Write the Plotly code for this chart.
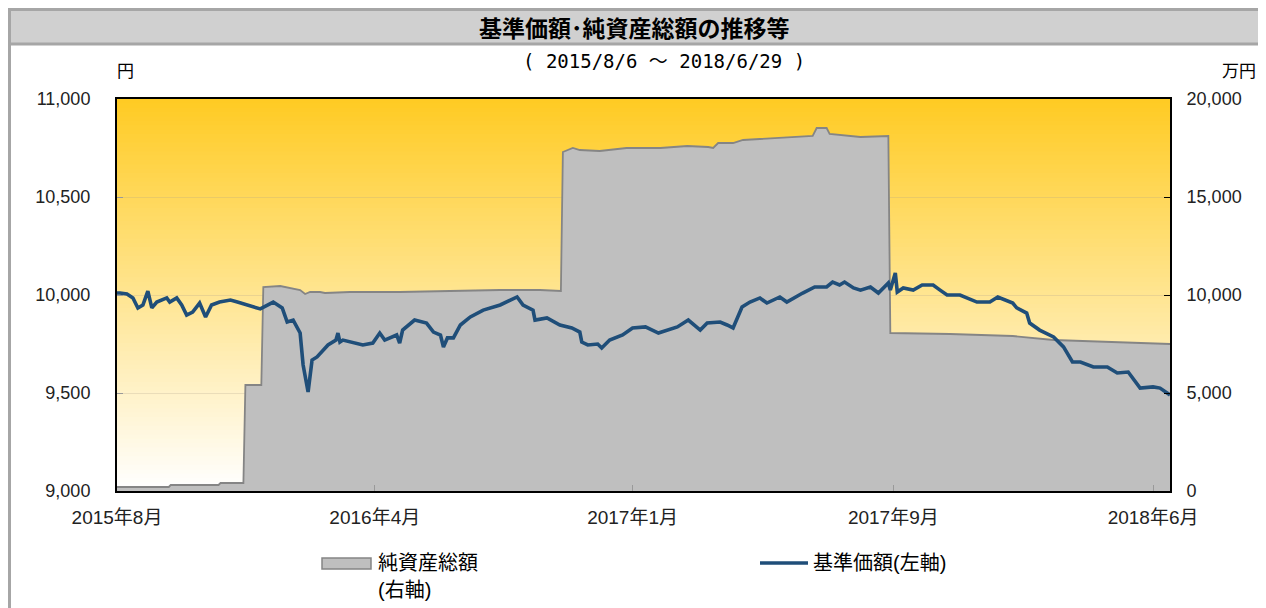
import plotly.graph_objects as go

# ---------------- data ----------------
nav_dates = [
    "2015-08-06", "2015-08-09", "2015-08-16", "2015-08-22", "2015-08-27", "2015-09-01", "2015-09-06", "2015-09-10",
    "2015-09-15", "2015-09-25", "2015-09-28", "2015-10-05", "2015-10-10", "2015-10-15", "2015-10-21", "2015-10-28",
    "2015-11-03", "2015-11-09", "2015-11-17", "2015-11-28", "2015-12-05", "2015-12-15", "2015-12-28",
    "2016-01-10", "2016-01-19", "2016-01-24", "2016-01-30", "2016-02-06", "2016-02-09", "2016-02-14", "2016-02-18",
    "2016-02-23", "2016-03-05", "2016-03-13", "2016-03-15", "2016-03-17", "2016-03-20", "2016-04-09", "2016-04-19",
    "2016-04-26", "2016-05-01", "2016-05-13", "2016-05-16", "2016-05-19", "2016-05-31", "2016-06-12", "2016-06-19",
    "2016-06-26", "2016-06-29", "2016-07-03", "2016-07-09", "2016-07-16", "2016-07-26", "2016-08-08", "2016-08-25",
    "2016-09-11", "2016-09-17", "2016-09-27", "2016-09-29", "2016-10-11", "2016-10-24", "2016-11-05", "2016-11-13",
    "2016-11-15", "2016-11-21", "2016-12-01", "2016-12-05", "2016-12-13", "2016-12-26",
    "2017-01-05", "2017-01-18", "2017-01-31", "2017-02-10", "2017-02-19", "2017-03-02", "2017-03-14", "2017-03-21",
    "2017-04-03", "2017-04-10", "2017-04-16", "2017-04-25", "2017-05-03", "2017-05-13", "2017-05-20", "2017-06-02",
    "2017-06-09", "2017-06-25", "2017-07-07", "2017-07-19", "2017-07-25", "2017-08-01", "2017-08-06", "2017-08-15",
    "2017-08-22", "2017-09-01", "2017-09-09", "2017-09-19", "2017-09-21", "2017-09-26", "2017-09-28", "2017-10-04",
    "2017-10-14", "2017-10-23", "2017-11-03", "2017-11-10", "2017-11-17", "2017-11-30", "2017-12-17", "2017-12-30",
    "2018-01-07", "2018-01-22", "2018-01-26", "2018-02-05", "2018-02-08", "2018-02-18", "2018-03-04", "2018-03-14",
    "2018-03-23", "2018-03-31", "2018-04-13", "2018-04-27", "2018-05-07", "2018-05-18", "2018-05-30", "2018-06-12",
    "2018-06-19", "2018-06-29",
]
nav_values = [
    10010, 10010, 10005, 9985, 9934, 9949, 10020, 9934,
    9964, 9985, 9964, 9985, 9949, 9898, 9913, 9959,
    9888, 9949, 9964, 9974, 9964, 9949, 9929,
    9964, 9934, 9862, 9872, 9806, 9643, 9505, 9668,
    9684, 9745, 9770, 9806, 9760, 9770, 9745, 9755,
    9806, 9770, 9796, 9755, 9821, 9872, 9857, 9811,
    9796, 9735, 9781, 9781, 9847, 9888, 9923, 9949,
    9990, 9949, 9923, 9872, 9883, 9847, 9832, 9811,
    9760, 9745, 9750, 9730, 9770, 9796,
    9832, 9837, 9806, 9821, 9837, 9872, 9821, 9857,
    9862, 9847, 9832, 9939, 9964, 9985, 9959, 9990,
    9964, 10010, 10041, 10041, 10066, 10051, 10066, 10036,
    10025, 10041, 10010, 10061, 10025, 10112, 10015, 10036,
    10025, 10051, 10051, 10025, 10000, 10000, 9964, 9964,
    9990, 9959, 9934, 9908, 9857, 9821, 9786, 9735,
    9658, 9658, 9633, 9633, 9602, 9607, 9525, 9531,
    9525, 9490,
]

na_dates = [
    "2015-08-06", "2015-09-27", "2015-09-29", "2015-11-16", "2015-11-18", "2015-12-11", "2015-12-13", "2015-12-29",
    "2015-12-31", "2016-01-17", "2016-02-06", "2016-02-11", "2016-02-16", "2016-02-26", "2016-03-02", "2016-03-27",
    "2016-05-16", "2016-07-06", "2016-08-25", "2016-10-04", "2016-10-25", "2016-10-27", "2016-11-06", "2016-11-13",
    "2016-12-03", "2016-12-30", "2017-02-02", "2017-03-01", "2017-03-22", "2017-03-27", "2017-04-01", "2017-04-16",
    "2017-04-26", "2017-05-13", "2017-06-15", "2017-07-05", "2017-07-09", "2017-07-19", "2017-07-22", "2017-08-04",
    "2017-08-22", "2017-09-19", "2017-09-21", "2017-11-20", "2018-01-22", "2018-03-04", "2018-03-31", "2018-05-30",
    "2018-06-29",
]
na_values = [
    204, 204, 306, 306, 408, 408, 5408, 5408,
    10408, 10459, 10255, 10051, 10153, 10153, 10102, 10153,
    10153, 10204, 10255, 10255, 10204, 17296, 17500, 17398,
    17347, 17500, 17500, 17602, 17551, 17500, 17755, 17755,
    17908, 17959, 18061, 18112, 18520, 18520, 18214, 18163,
    18061, 18112, 8061, 8010, 7908, 7704, 7653, 7551,
    7500,
]

x_tick_dates = ["2015-08-06", "2016-04-21", "2017-01-05", "2017-09-24", "2018-06-12"]
x_tick_labels = ["2015年8月", "2016年4月", "2017年1月", "2017年9月", "2018年6月"]
left_ticks = [9000, 9500, 10000, 10500, 11000]
right_ticks = [0, 5000, 10000, 15000, 20000]

title_text = "基準価額･純資産総額の推移等"
subtitle_text = "( 2015/8/6 〜 2018/6/29 )"
na_name = "純資産総額"
na_name2 = "(右軸)"
nav_name = "基準価額(左軸)"

# ---------------- styling ----------------
FONT = "Liberation Sans, Noto Sans CJK JP, sans-serif"
MONO = "DejaVu Sans Mono, Noto Sans CJK JP, monospace"
W, H = 1266, 608
OFF = 8  # page body margin offset
PL, PR, PT, PB = 117, 1170, 99, 491  # plot area in page pixels
L, R, T, B = PL - OFF, PR - OFF, PT - OFF, PB - OFF  # in figure pixels


def px(xp):  # page pixel x -> paper
    return (xp - PL) / (PR - PL)


def py(yp):  # page pixel y -> paper
    return (PB - yp) / (PB - PT)


fig = go.Figure()

fig.add_trace(go.Scatter(
    x=na_dates, y=na_values, yaxis="y", mode="lines",
    line=dict(color="#858585", width=1.8), fill="tozeroy", fillcolor="#bfbfbf",
    name=na_name, showlegend=False,
))
fig.add_trace(go.Scatter(
    x=nav_dates, y=nav_values, yaxis="y2", mode="lines",
    line=dict(color="#1f4e79", width=3.6), name=nav_name, showlegend=False,
))

shapes = []
# gradient background in the plot area
n = 90
top = (255, 203, 36)
bot = (255, 255, 255)
for i in range(n):
    t = i / (n - 1)
    c = tuple(int(round(top[k] + (bot[k] - top[k]) * t)) for k in range(3))
    shapes.append(dict(type="rect", xref="x domain", yref="y domain",
                       x0=0, x1=1, y0=max(0, 1 - (i + 1) / n - 0.002), y1=1 - i / n,
                       fillcolor="rgb(%d,%d,%d)" % c, line=dict(width=0), layer="below"))
# title bar and outer frame
shapes.append(dict(type="rect", xref="paper", yref="paper", x0=px(9.5), x1=px(1280), y0=py(44), y1=py(9.5),
                   fillcolor="#d0d0d0", line=dict(color="#a6a6a6", width=3), layer="below"))
shapes.append(dict(type="line", xref="paper", yref="paper", x0=px(9.5), x1=px(9.5), y0=py(9), y1=py(620),
                   line=dict(color="#a6a6a6", width=3), layer="below"))
# legend swatches
shapes.append(dict(type="rect", xref="paper", yref="paper", x0=px(322), x1=px(371), y0=py(569), y1=py(558),
                   fillcolor="#bfbfbf", line=dict(color="#858585", width=1.5)))
shapes.append(dict(type="line", xref="paper", yref="paper", x0=px(760), x1=px(808), y0=py(563), y1=py(563),
                   line=dict(color="#1f4e79", width=3.6)))

annotations = [
    dict(text="<b>" + title_text + "</b>", x=px(634), y=py(27), xref="paper", yref="paper", showarrow=False,
         font=dict(family="Noto Sans CJK JP", size=23, color="#000"), xanchor="center", yanchor="middle"),
    dict(text=subtitle_text, x=px(664), y=py(61), xref="paper", yref="paper", showarrow=False,
         font=dict(family=MONO, size=19, color="#000"), xanchor="center", yanchor="middle"),
    dict(text="円", x=px(125), y=py(72), xref="paper", yref="paper", showarrow=False,
         font=dict(family=FONT, size=17, color="#000"), xanchor="center", yanchor="middle"),
    dict(text="万円", x=px(1239), y=py(72), xref="paper", yref="paper", showarrow=False,
         font=dict(family=FONT, size=17, color="#000"), xanchor="center", yanchor="middle"),
    dict(text=na_name, x=px(376), y=py(563), xref="paper", yref="paper", showarrow=False,
         font=dict(family=FONT, size=20, color="#000"), xanchor="left", yanchor="middle"),
    dict(text=na_name2, x=px(376), y=py(590), xref="paper", yref="paper", showarrow=False,
         font=dict(family=FONT, size=20, color="#000"), xanchor="left", yanchor="middle"),
    dict(text=nav_name, x=px(811), y=py(563), xref="paper", yref="paper", showarrow=False,
         font=dict(family=FONT, size=20, color="#000"), xanchor="left", yanchor="middle"),
]

fig.update_layout(
    width=W, height=H,
    margin=dict(l=L, r=W - R, t=T, b=H - B, pad=0),
    paper_bgcolor="white", plot_bgcolor="rgba(0,0,0,0)",
    font=dict(family=FONT, size=17, color="#222"),
    showlegend=False,
    shapes=shapes, annotations=annotations,
    xaxis=dict(type="date", range=["2015-08-06", "2018-06-29"], tickvals=x_tick_dates, ticktext=x_tick_labels,
               ticks="inside", ticklen=6, tickcolor="#999", showgrid=False,
               showline=True, linecolor="#000", linewidth=2, mirror=True,
               tickfont=dict(family=FONT, size=19, color="#222"), ticklabelstandoff=8),
    yaxis=dict(side="right", range=[0, 20000], tickvals=right_ticks, tickformat=",",
               ticks="inside", ticklen=6, tickcolor="#000", showgrid=True, gridcolor="rgba(170,160,140,0.25)",
               gridwidth=1, showline=True, linecolor="#000", linewidth=2, zeroline=False,
               tickfont=dict(family=FONT, size=18, color="#222"), ticklabelstandoff=11),
    yaxis2=dict(side="left", overlaying="y", range=[9000, 11000], tickvals=left_ticks, tickformat=",",
                ticks="inside", ticklen=6, tickcolor="#999", showgrid=False,
                showline=True, linecolor="#000", linewidth=2, zeroline=False,
                tickfont=dict(family=FONT, size=18, color="#222"), ticklabelstandoff=21),
)

fig.write_html("out.html")
